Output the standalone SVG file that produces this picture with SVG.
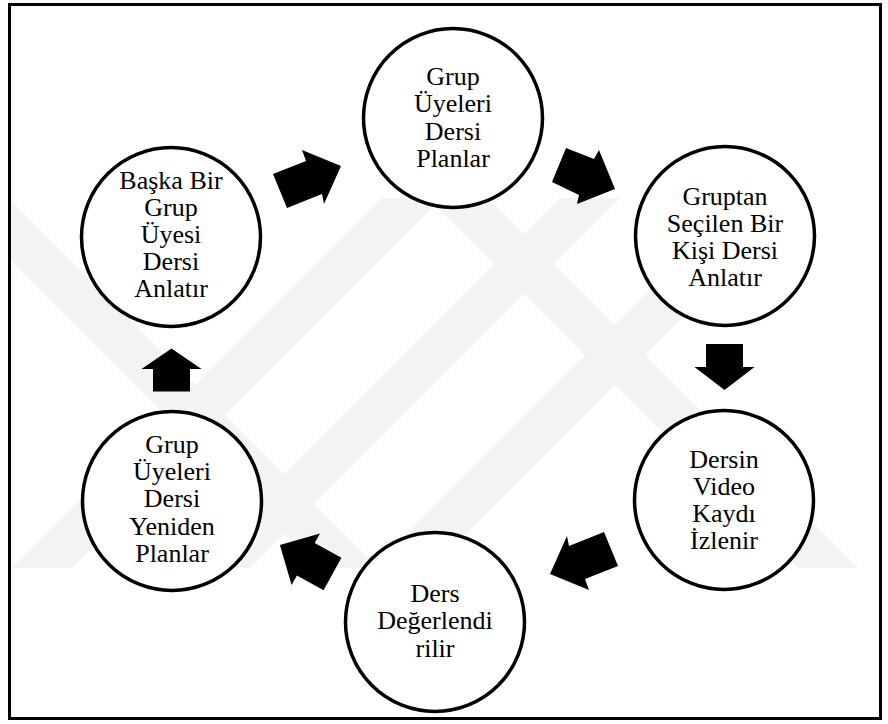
<svg xmlns="http://www.w3.org/2000/svg" width="888" height="724" viewBox="0 0 888 724">
  <style>
    .node circle { fill: #ffffff; stroke: #000000; stroke-width: 3.5; }
    .node text { font-family: "Liberation Serif", "DejaVu Serif", serif; font-size: 26px; fill: #000000; text-anchor: middle; }
    .arrow { fill: #000000; stroke: none; }
    .wm { fill: #f3f3f3; }
  </style>
  <defs>
    <clipPath id="wmClip">
      <rect x="10" y="198" width="868" height="370"/>
    </clipPath>
  </defs>

  <rect x="0" y="0" width="888" height="724" fill="#ffffff"/>

  <!-- pale background emblem -->
  <g id="emblem" class="wm" clip-path="url(#wmClip)">
    <polygon points="12,568 72,568 442,198 382,198"/>
    <polygon points="190,568 250,568 620,198 560,198"/>
    <polygon points="372,568 432,568 802,198 742,198"/>
    <polygon points="-52,198 8,198 378,568 318,568"/>
    <polygon points="428,198 488,198 858,568 798,568"/>
  </g>

  <!-- frame -->
  <rect x="9.5" y="4.5" width="871" height="714" fill="none" stroke="#000000" stroke-width="3"/>

  <!-- connectors -->
  <g id="connectors">
    <polygon class="arrow" points="273,174 306,161 302,150 341,166 324,204 322,194 287,208"/>
    <polygon class="arrow" points="566,148 594,159 599,150 615,189 577,204 579,195 552,182"/>
    <polygon class="arrow" points="706,344 743,344 743,367 754.5,367 724.5,390 694.5,367 706,367"/>
    <polygon class="arrow" points="618,566 585,579 589,590 550,574 567,536 569,546 604,532"/>
    <polygon class="arrow" points="323.6,590.2 296.9,575.5 291.6,585.1 279.9,545.1 320,533.5 314.7,543.1 341.4,557.8"/>
    <polygon class="arrow" points="190,391.5 190,369 201.5,369 171.5,348.5 141.5,369 153,369 153,391.5"/>
  </g>

  <g id="n1" class="node">
    <circle cx="453" cy="118" r="89.5"/>
    <text x="453" y="85">Grup</text>
    <text x="453" y="112">Üyeleri</text>
    <text x="453" y="140">Dersi</text>
    <text x="453" y="167">Planlar</text>
  </g>

  <g id="n2" class="node">
    <circle cx="725" cy="236" r="89.5"/>
    <text x="725" y="205">Gruptan</text>
    <text x="725" y="232">Seçilen Bir</text>
    <text x="725" y="259">Kişi Dersi</text>
    <text x="725" y="286">Anlatır</text>
  </g>

  <g id="n3" class="node">
    <circle cx="724" cy="500" r="89.5"/>
    <text x="724" y="468">Dersin</text>
    <text x="724" y="495">Video</text>
    <text x="724" y="522">Kaydı</text>
    <text x="724" y="549">İzlenir</text>
  </g>

  <g id="n4" class="node">
    <circle cx="435" cy="622" r="89.5"/>
    <text x="435" y="602">Ders</text>
    <text x="435" y="629">Değerlendi</text>
    <text x="435" y="657">rilir</text>
  </g>

  <g id="n5" class="node">
    <circle cx="172" cy="501" r="89.5"/>
    <text x="172" y="453">Grup</text>
    <text x="172" y="480">Üyeleri</text>
    <text x="172" y="507">Dersi</text>
    <text x="172" y="535">Yeniden</text>
    <text x="172" y="562">Planlar</text>
  </g>

  <g id="n6" class="node">
    <circle cx="171" cy="237" r="89.5"/>
    <text x="171" y="189">Başka Bir</text>
    <text x="171" y="216">Grup</text>
    <text x="171" y="243">Üyesi</text>
    <text x="171" y="270">Dersi</text>
    <text x="171" y="297">Anlatır</text>
  </g>
</svg>
